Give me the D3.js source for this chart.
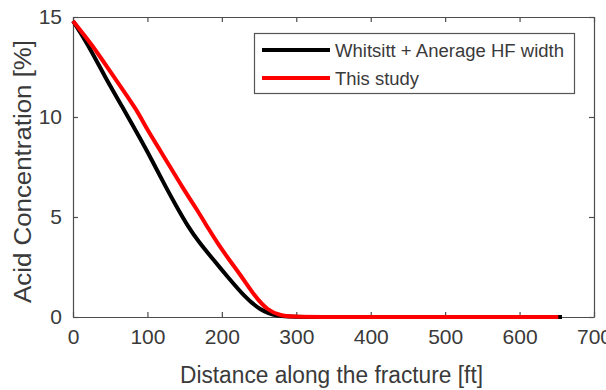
<html>
<head>
    <title>Acid concentration along the fracture</title>
    <style>
        body{
            margin: 0;
            background: #fff;
        }
        svg{
            display: block;
        }
        text{
            font-family: "Liberation Sans", Arial, sans-serif;
            fill: #3a3a3a;
        }
    </style>
</head>
<body>
<script src="https://d3js.org/d3.v7.min.js"></script>
<svg></svg>
<script>

    // values
    var whitsittX = [0, 19, 43, 68, 83, 99, 126, 141, 155, 168, 190, 208, 231, 251, 274, 300, 400, 500, 600, 657];
    var whitsittY = [14.8, 13.7, 12.0, 10.4, 9.4, 8.35, 6.4, 5.4, 4.5, 3.8, 2.8, 2.0, 1.0, 0.35, 0.02, 0, 0, 0, 0, 0];

    var studyX = [0, 24, 55, 86, 99, 117, 149, 167, 183, 194, 210, 227, 245, 261, 278, 295, 330, 400, 500, 600, 652];
    var studyY = [14.8, 13.7, 12.0, 10.35, 9.4, 8.35, 6.35, 5.35, 4.35, 3.7, 2.85, 2.0, 1.0, 0.35, 0.08, 0.01, 0, 0, 0, 0, 0];

    var xTicks = [0, 100, 200, 300, 400, 500, 600, 700];
    var yTicks = [0, 5, 10, 15];

    var seriesNames = ["Whitsitt + Anerage HF width", "This study"];
    var seriesColors = ["#000000", "#ff0000"];

    var margin = {top: 17, right: 12, bottom: 73, left: 73};
    var width = 606, height = 390;
    var w = width - margin.left - margin.right;
    var h = height - margin.top - margin.bottom;

    var svg = d3.select("svg")
        .attr("width", width)
        .attr("height", height);

    var g = svg.append("g")
        .attr("transform", "translate(" + margin.left + "," + margin.top + ")");

    var x = d3.scaleLinear().domain([0, 700]).range([0, w]);
    var y = d3.scaleLinear().domain([0, 15]).range([h, 0]);

    var axisColor = "#4d4d4d";

    // axes, ticks pointing inward like matlab
    var xAxis = g.append("g")
        .attr("transform", "translate(0," + h + ")")
        .call(d3.axisBottom(x).tickValues(xTicks).tickSizeInner(-5).tickSizeOuter(0).tickPadding(12));
    var xTop = g.append("g")
        .call(d3.axisTop(x).tickValues(xTicks).tickSizeInner(-5).tickSizeOuter(0).tickFormat(""));
    var yAxis = g.append("g")
        .call(d3.axisLeft(y).tickValues(yTicks).tickSizeInner(-5).tickSizeOuter(0).tickPadding(11));
    var yRight = g.append("g")
        .attr("transform", "translate(" + w + ",0)")
        .call(d3.axisRight(y).tickValues(yTicks).tickSizeInner(-5).tickSizeOuter(0).tickFormat(""));

    [xAxis, xTop, yAxis, yRight].forEach(function(a){
        a.select(".domain").attr("stroke", axisColor).attr("stroke-width", 1.2);
        a.selectAll(".tick line").attr("stroke", axisColor).attr("stroke-width", 1.2);
        a.selectAll(".tick text")
            .style("font-family", "'Liberation Sans Narrow', 'Liberation Sans', Arial, sans-serif")
            .style("font-size", "21px")
            .attr("fill", "#3a3a3a");
    });

    // basis curve smooths the hand-read points
    var line = d3.line()
        .x(function(d){ return x(d[0]); })
        .y(function(d){ return y(d[1]); })
        .curve(d3.curveBasis);

    var series = [
        d3.zip(whitsittX, whitsittY),
        d3.zip(studyX, studyY)
    ];

    g.selectAll(".series")
        .data(series)
        .enter().append("path")
        .attr("class", "series")
        .attr("d", line)
        .attr("fill", "none")
        .attr("stroke", function(d, i){ return seriesColors[i]; })
        .attr("stroke-width", 4)
        .attr("stroke-linejoin", "round");

    // legend
    var legend = svg.append("g");
    legend.append("rect")
        .attr("x", 254.5).attr("y", 33.5)
        .attr("width", 320).attr("height", 60)
        .attr("fill", "#fff")
        .attr("stroke", "#555")
        .attr("stroke-width", 1.2);

    var legendTextWidths = [229, 84];
    seriesNames.forEach(function(name, i){
        var yy = 50 + i * 28;
        legend.append("line")
            .attr("x1", 262).attr("x2", 330)
            .attr("y1", yy).attr("y2", yy)
            .attr("stroke", seriesColors[i])
            .attr("stroke-width", 4);
        legend.append("text")
            .attr("x", 335).attr("y", yy + 6.5)
            .attr("textLength", legendTextWidths[i])
            .attr("lengthAdjust", "spacingAndGlyphs")
            .style("font-size", "18px")
            .text(name);
    });

    // axis titles
    svg.append("text")
        .attr("x", 180).attr("y", 383)
        .attr("textLength", 303)
        .attr("lengthAdjust", "spacingAndGlyphs")
        .style("font-size", "23px")
        .text("Distance along the fracture [ft]");

    svg.append("text")
        .attr("transform", "translate(31,303) rotate(-90)")
        .attr("textLength", 263)
        .attr("lengthAdjust", "spacingAndGlyphs")
        .style("font-size", "23px")
        .text("Acid Concentration [%]");

</script>
</body>
</html>
